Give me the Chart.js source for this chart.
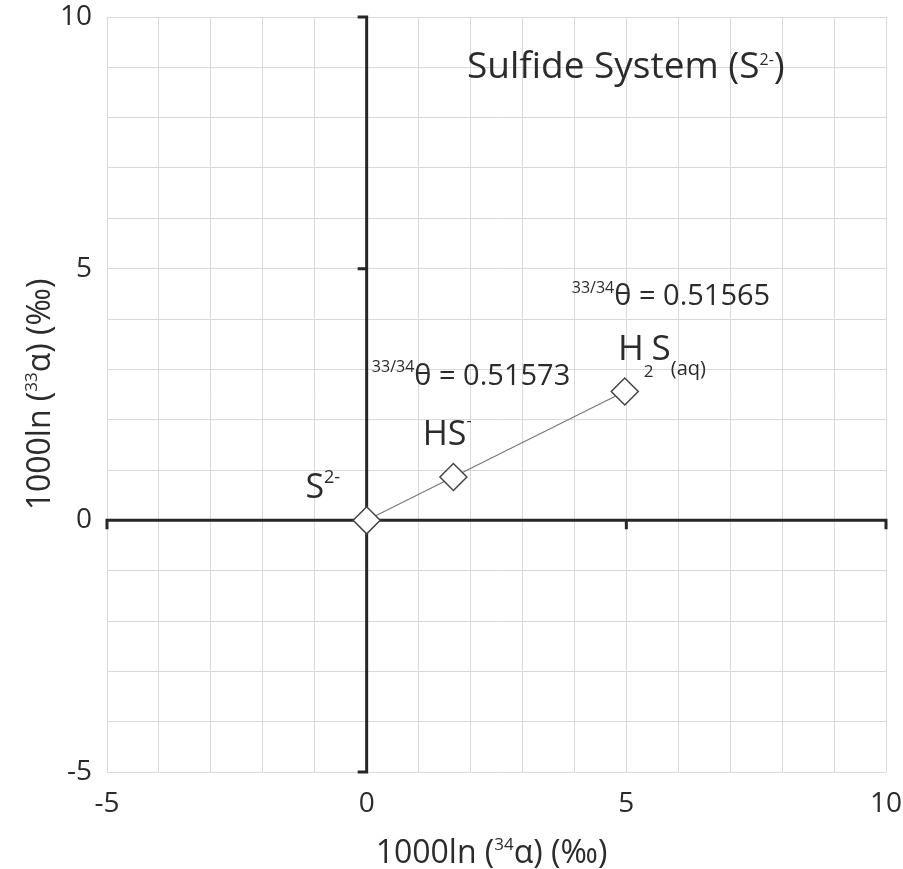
<!DOCTYPE html>
<html>
<head>
<meta charset="utf-8">
<script src="https://cdn.jsdelivr.net/npm/chart.js@4"></script>
<style>
  body { margin: 0; background: #fff; }
  #wrap { width: 903px; height: 869px; }
</style>
</head>
<body>
<div id="wrap"><canvas id="sulfideChart"></canvas></div>
<script>
// data
var species = ['S2-', 'HS-', 'H2S(aq)'];
var ln34 = [0, 1.67, 4.97];
var ln33 = [0, 0.86, 2.56];
var thetaLabels = ['0.51573', '0.51565'];
var tickLabels = [-5, 0, 5, 10];

var FONT = "'Open Sans', sans-serif";
var TEXT = '#2b2b2b';

var points = [];
for (var i = 0; i < species.length; i++) {
    points.push({ x: ln34[i], y: ln33[i] });
}

// text pieces: t = text, s = font size, dy = baseline shift (neg = up), dx = nudge
var notes = [
    { x: 1.93, y: 8.79, parts: [{ t: 'Sulfide System (S', s: 37 }, { t: '2-', s: 16, dy: -13 }, { t: ')', s: 37 }] },
    { x: -1.18, y: 0.44, parts: [{ t: 'S', s: 34 }, { t: '2-', s: 18, dy: -15 }] },
    { x: 1.08, y: 1.49, parts: [{ t: 'HS', s: 34 }, { t: '-', s: 16, dy: -19 }] },
    { x: 4.84, y: 3.19, parts: [{ t: 'H', s: 35 }, { t: '2', s: 17, dy: 17 }, { t: 'S', s: 35, dx: -2 }, { t: '(aq)', s: 20, dy: 15 }] },
    { x: 0.10, y: 2.69, parts: [{ t: '33/34', s: 16, dy: -13 }, { t: '\u03b8 = ' + thetaLabels[0], s: 29 }] },
    { x: 3.95, y: 4.28, parts: [{ t: '33/34', s: 16, dy: -12 }, { t: '\u03b8 = ' + thetaLabels[1], s: 29 }] }
];

function partsWidth(ctx, parts) {
    var w = 0;
    parts.forEach(function(p) {
        ctx.font = p.s + 'px ' + FONT;
        w += ctx.measureText(p.t).width + (p.dx || 0);
    });
    return w;
}

function drawParts(ctx, x, y, parts) {
    ctx.textAlign = 'left';
    ctx.textBaseline = 'alphabetic';
    ctx.fillStyle = TEXT;
    parts.forEach(function(p) {
        ctx.font = p.s + 'px ' + FONT;
        x += p.dx || 0;
        ctx.fillText(p.t, x, y + (p.dy || 0));
        x += ctx.measureText(p.t).width;
    });
}

var axesPlugin = {
    id: 'axesPlugin',
    beforeDatasetsDraw: function(chart) {
        var ctx = chart.ctx;
        var xs = chart.scales.x, ys = chart.scales.y;
        var x0 = xs.getPixelForValue(0), y0 = ys.getPixelForValue(0);
        ctx.save();
        ctx.strokeStyle = '#262626';
        ctx.lineWidth = 3;
        ctx.beginPath();
        ctx.moveTo(x0, ys.top);
        ctx.lineTo(x0, ys.bottom);
        ctx.moveTo(xs.left, y0);
        ctx.lineTo(xs.right, y0);
        // major tick marks on the crossing axes
        tickLabels.forEach(function(v) {
            if (v === 0) return;
            var py = ys.getPixelForValue(v);
            ctx.moveTo(x0 + 1.5, py);
            ctx.lineTo(x0 - 9, py);
            var px = xs.getPixelForValue(v);
            ctx.moveTo(px, y0 - 1.5);
            ctx.lineTo(px, y0 + 9);
        });
        ctx.stroke();
        ctx.restore();
    },
    afterDraw: function(chart) {
        var ctx = chart.ctx;
        var xs = chart.scales.x, ys = chart.scales.y;
        ctx.save();
        notes.forEach(function(n) {
            drawParts(ctx, xs.getPixelForValue(n.x), ys.getPixelForValue(n.y), n.parts);
        });
        // axis titles
        var xt = [{ t: '1000ln (', s: 32 }, { t: '34', s: 17, dy: -13 }, { t: '\u03b1) (\u2030)', s: 32 }];
        var cx = (xs.left + xs.right) / 2 - 5;
        drawParts(ctx, cx - partsWidth(ctx, xt) / 2, 863, xt);
        var yt = [{ t: '1000ln (', s: 32 }, { t: '33', s: 17, dy: -13 }, { t: '\u03b1) (\u2030)', s: 32 }];
        var cy = (ys.top + ys.bottom) / 2;
        ctx.translate(50, cy);
        ctx.rotate(-Math.PI / 2);
        drawParts(ctx, -partsWidth(ctx, yt) / 2, 0, yt);
        ctx.restore();
    }
};

function tickCb(v) {
    return tickLabels.indexOf(v) >= 0 ? v : '';
}

new Chart(document.getElementById('sulfideChart'), {
    type: 'scatter',
    data: {
        datasets: [{
            label: 'Sulfide system',
            data: points,
            showLine: true,
            borderColor: '#777',
            borderWidth: 1.2,
            pointStyle: 'rectRot',
            pointRadius: 13.5,
            pointBackgroundColor: '#fff',
            pointBorderColor: '#444',
            pointBorderWidth: 1.5
        }]
    },
    options: {
        responsive: true,
        maintainAspectRatio: false,
        animation: false,
        layout: { padding: 0 },
        plugins: { legend: { display: false }, tooltip: { enabled: false } },
        scales: {
            x: {
                type: 'linear',
                min: -5,
                max: 10,
                afterFit: function(s) {
                    s.height = 97;
                    s.paddingLeft = 0;
                    s.paddingRight = 17;
                },
                grid: { color: '#d9d9d9', lineWidth: 1, drawTicks: false },
                border: { display: false },
                ticks: {
                    stepSize: 1, autoSkip: false, maxRotation: 0,
                    padding: 15, color: TEXT,
                    font: { family: FONT, size: 28 },
                    callback: tickCb
                }
            },
            y: {
                type: 'linear',
                min: -5,
                max: 10,
                afterFit: function(s) {
                    s.width = 107;
                    s.paddingTop = 17;
                    s.paddingBottom = 0;
                },
                grid: { color: '#d9d9d9', lineWidth: 1, drawTicks: false },
                border: { display: false },
                ticks: {
                    stepSize: 1, autoSkip: false,
                    padding: 15, color: TEXT,
                    font: { family: FONT, size: 28 },
                    callback: tickCb
                }
            }
        }
    },
    plugins: [axesPlugin]
});
</script>
</body>
</html>
